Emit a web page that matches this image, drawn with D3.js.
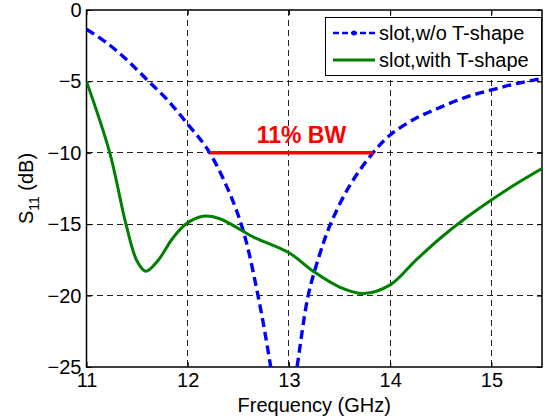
<!DOCTYPE html>
<html>
<head>
<meta charset="utf-8">
<script src="https://cdn.jsdelivr.net/npm/d3@7"></script>
<style>
  body { margin: 0; background: #fff; }
  svg { font-family: "Liberation Sans", Arial, sans-serif; }
</style>
</head>
<body>
<svg id="chart" width="548" height="419"></svg>
<script>
// frequency (GHz) / S11 (dB)
const freqNoT = [11.0, 11.2, 11.4, 11.6, 11.8, 12.0, 12.2, 12.4, 12.55, 12.7, 12.82, 12.95, 13.08, 13.19, 13.3, 13.41, 13.6, 13.83, 14.0, 14.25, 14.5, 14.75, 15.0, 15.25, 15.5];
const s11NoT  = [-1.35, -2.3, -3.5, -4.9, -6.3, -8.0, -9.8, -12.6, -15.5, -20.2, -25.0, -31.0, -25.0, -20.0, -17.2, -15.0, -12.3, -10.0, -8.75, -7.6, -6.8, -6.1, -5.6, -5.15, -4.8];

const freqT = [11.0, 11.23, 11.39, 11.5, 11.585, 11.7, 11.85, 11.98, 12.15, 12.31, 12.65, 13.0, 13.24, 13.5, 13.74, 14.0, 14.25, 14.5, 14.75, 15.0, 15.25, 15.5];
const s11T  = [-5.0, -10.0, -15.0, -17.6, -18.3, -17.6, -16.0, -15.0, -14.45, -14.6, -15.9, -17.0, -18.3, -19.4, -19.85, -19.25, -17.55, -15.95, -14.55, -13.3, -12.15, -11.1];

const xTicks = [11, 12, 13, 14, 15];
const yTicks = [0, -5, -10, -15, -20, -25];
const seriesNames = ["slot,w/o T-shape", "slot,with T-shape"];
const bwRange = [12.22, 13.83]; // -10 dB bandwidth marker
const bwLevel = -10;
const bwLabel = "11% BW";

const svg = d3.select("#chart");
const plotL = 86.5, plotR = 542, plotT = 10, plotB = 367;

const x = d3.scaleLinear().domain([11, 15.5]).range([plotL, plotR]);
const y = d3.scaleLinear().domain([-25, 0]).range([plotB, plotT]);

svg.append("defs").append("clipPath").attr("id", "clip")
  .append("rect").attr("x", plotL).attr("y", plotT)
  .attr("width", plotR - plotL).attr("height", plotB - plotT);

// grid
const grid = svg.append("g").attr("stroke", "#222").attr("stroke-width", 1)
  .attr("stroke-dasharray", "6,4").attr("shape-rendering", "crispEdges");
xTicks.slice(1).forEach(t => {
  grid.append("line").attr("x1", x(t)).attr("x2", x(t)).attr("y1", plotT).attr("y2", plotB);
});
yTicks.slice(1, -1).forEach(t => {
  grid.append("line").attr("x1", plotL).attr("x2", plotR).attr("y1", y(t)).attr("y2", y(t));
});

// axes (matlab style: ticks inward, box)
const xAxis = svg.append("g").attr("transform", `translate(0,${plotB})`)
  .call(d3.axisBottom(x).tickValues(xTicks).tickSize(-5).tickPadding(6).tickFormat(d3.format("d")));
const xAxisTop = svg.append("g").attr("transform", `translate(0,${plotT})`)
  .call(d3.axisTop(x).tickValues(xTicks).tickSize(-5).tickFormat(""));
const yAxis = svg.append("g").attr("transform", `translate(${plotL},0)`)
  .call(d3.axisLeft(y).tickValues(yTicks).tickSize(-5).tickPadding(5).tickFormat(d3.format("d")));
const yAxisRight = svg.append("g").attr("transform", `translate(${plotR},0)`)
  .call(d3.axisRight(y).tickValues(yTicks).tickSize(-5).tickFormat(""));

[xAxis, xAxisTop, yAxis, yAxisRight].forEach(g => {
  g.select(".domain").remove();
  g.selectAll("line").attr("stroke", "#000");
  g.selectAll("text").attr("fill", "#000").style("font-size", "20px")
    .style("font-family", "'Liberation Sans', Arial, sans-serif");
});
xAxis.selectAll("text").attr("dy", "0.71em");

svg.append("rect").attr("x", plotL).attr("y", plotT)
  .attr("width", plotR - plotL).attr("height", plotB - plotT)
  .attr("fill", "none").attr("stroke", "#000").attr("stroke-width", 1.5);

// curves
const line = d3.line().x(d => x(d[0])).y(d => y(d[1])).curve(d3.curveCatmullRom.alpha(0.5));
const plot = svg.append("g").attr("clip-path", "url(#clip)");

plot.append("path")
  .datum(freqNoT.map((f, i) => [f, s11NoT[i]]))
  .attr("d", line).attr("fill", "none")
  .attr("stroke", "#0000ff").attr("stroke-width", 3.4).attr("stroke-dasharray", "9,5");

plot.append("path")
  .datum(freqT.map((f, i) => [f, s11T[i]]))
  .attr("d", line).attr("fill", "none")
  .attr("stroke", "#008000").attr("stroke-width", 3);

// bandwidth marker
svg.append("line")
  .attr("x1", x(bwRange[0])).attr("x2", x(bwRange[1]))
  .attr("y1", y(bwLevel)).attr("y2", y(bwLevel))
  .attr("stroke", "#ff0000").attr("stroke-width", 3.5);
svg.append("text")
  .attr("x", x((bwRange[0] + bwRange[1]) / 2) + 10).attr("y", y(bwLevel) - 10)
  .attr("text-anchor", "middle").attr("fill", "#ff0000")
  .style("font-size", "23px").style("font-weight", "bold")
  .text(bwLabel);

// legend
const lg = svg.append("g");
lg.append("rect").attr("x", 325.5).attr("y", 17.5).attr("width", 216).attr("height", 58)
  .attr("fill", "#fff").attr("stroke", "#000").attr("stroke-width", 1);
const rows = [
  { name: seriesNames[0], color: "#0000ff", dash: "6,3", w: 2.5, marker: true, yy: 33 },
  { name: seriesNames[1], color: "#008000", dash: null, w: 3, marker: false, yy: 60 }
];
rows.forEach(r => {
  lg.append("line").attr("x1", 333).attr("x2", 375).attr("y1", r.yy).attr("y2", r.yy)
    .attr("stroke", r.color).attr("stroke-width", r.w).attr("stroke-dasharray", r.dash);
  if (r.marker) lg.append("circle").attr("cx", 354).attr("cy", r.yy).attr("r", 2.5).attr("fill", r.color);
  lg.append("text").attr("x", 379).attr("y", r.yy).attr("dy", "0.35em")
    .style("font-size", "20px").text(r.name);
});

// axis labels
svg.append("text").attr("x", (plotL + plotR) / 2).attr("y", 412)
  .attr("text-anchor", "middle").style("font-size", "20px").text("Frequency (GHz)");
const yl = svg.append("text").attr("transform", `translate(33,${(plotT + plotB) / 2}) rotate(-90)`)
  .attr("text-anchor", "middle").style("font-size", "20px");
yl.append("tspan").text("S");
yl.append("tspan").attr("dy", 6).style("font-size", "14px").text("11");
yl.append("tspan").attr("dy", -6).text(" (dB)");
</script>
</body>
</html>
